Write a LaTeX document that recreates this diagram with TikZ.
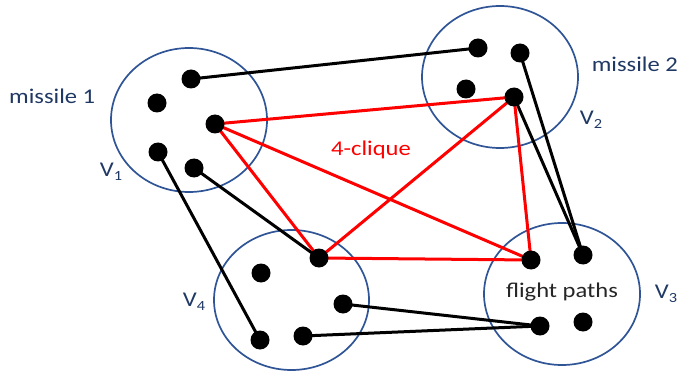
\documentclass[tikz,border=0pt]{standalone}
\usepackage{fontspec}
\setmainfont{Carlito}
\definecolor{setblue}{HTML}{2F5597}
\definecolor{labblue}{HTML}{1F3864}
\definecolor{cliquered}{HTML}{FF0000}
\newcommand{\lab}[1]{\scalebox{1.17}[1]{\fontsize{21}{24}\selectfont #1}}
\newcommand{\vsub}[2]{\scalebox{1.17}[1]{\fontsize{21}{24}\selectfont V\raisebox{-0.35ex}{\fontsize{14}{14}\selectfont #2}}}
\begin{document}
\begin{tikzpicture}[x=1pt,y=-1pt,
  setring/.style={draw=setblue,line width=1.7pt},
  vdot/.style={circle,fill=black,inner sep=0pt,minimum size=19pt},
  blk/.style={draw=black,line width=3pt},
  rd/.style={draw=cliquered,line width=3pt},
  txt/.style={inner sep=0pt,text=labblue}]
\useasboundingbox (0,0) rectangle (679,374);
% set ellipses
\draw[setring] (189,120) ellipse [x radius=78, y radius=72];
\draw[setring] (500,77) ellipse [x radius=78, y radius=71];
\draw[setring] (562,294) ellipse [x radius=78, y radius=71];
\draw[setring] (291.5,300) ellipse [x radius=77.5, y radius=70];
% vertices
\coordinate (a1) at (191,79);
\coordinate (a2) at (157,103);
\coordinate (a3) at (215,124);
\coordinate (a4) at (158,152);
\coordinate (a5) at (194,168);
\coordinate (b1) at (478,48);
\coordinate (b2) at (520,53);
\coordinate (b3) at (466,89);
\coordinate (b4) at (514,97);
\coordinate (c1) at (531,260);
\coordinate (c2) at (583,255);
\coordinate (c3) at (540,326);
\coordinate (c4) at (583,322);
\coordinate (d1) at (319,258);
\coordinate (d2) at (261,273);
\coordinate (d3) at (343,304);
\coordinate (d4) at (260,340);
\coordinate (d5) at (303,336);
% black edges
\draw[blk] (a1) -- (b1);
\draw[blk] (a4) -- (d4);
\draw[blk] (a5) -- (d1);
\draw[blk] (b2) -- (c2);
\draw[blk] (b4) -- (c2);
\draw[blk] (d3) -- (c3);
\draw[blk] (d5) -- (c3);
% red clique edges
\draw[rd] (a3) -- (b4);
\draw[rd] (a3) -- (c1);
\draw[rd] (a3) -- (d1);
\draw[rd] (b4) -- (c1);
\draw[rd] (b4) -- (d1);
\draw[rd] (d1) -- (c1);
% dots
\foreach \p in {a1,a2,a3,a4,a5,b1,b2,b3,b4,c1,c2,c3,c4,d1,d2,d3,d4,d5}
  \node[vdot] (n\p) at (\p) {};
% labels
\node[txt,anchor=base west] (m1) at (9,104) {\lab{missile 1}};
\node[txt,anchor=base east] (m2) at (678,72) {\lab{missile 2}};
\node[txt,text=cliquered] (cl) at (371,150) {\lab{4-clique}};
\node[txt,text=black!85] (fp) at (562,292) {\lab{flight paths}};
\node[txt] (v1) at (111,172) {\vsub{V}{1}};
\node[txt] (v2) at (591,120) {\vsub{V}{2}};
\node[txt] (v3) at (666,294) {\vsub{V}{3}};
\node[txt] (v4) at (194,302) {\vsub{V}{4}};
\end{tikzpicture}
\end{document}
